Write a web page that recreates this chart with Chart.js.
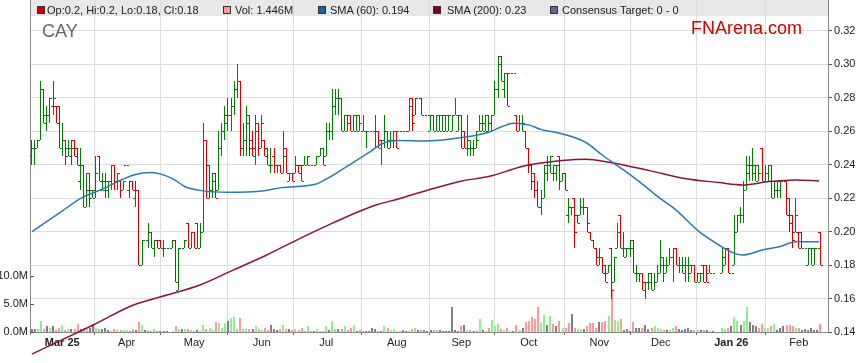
<!DOCTYPE html>
<html><head><meta charset="utf-8">
<script src="https://cdn.jsdelivr.net/npm/chart.js@4.4.1/dist/chart.umd.min.js"></script>
<style>
html,body{margin:0;padding:0;background:#fff;}
#wrap{position:relative;width:859px;height:363px;overflow:hidden;font-family:"Liberation Sans",Arial,sans-serif;}
#legend{position:absolute;left:30px;top:0;width:798px;height:16px;background:#e8e8e8;z-index:0;}
.it{position:absolute;top:2px;font-size:11px;line-height:16px;color:#222;white-space:nowrap;z-index:2;}
.sw{position:absolute;top:6px;width:6px;height:6px;border:1px solid #333;z-index:2;}
#cay{position:absolute;left:42px;top:22px;font-size:18px;line-height:18px;color:#666;z-index:2;}
#fna{position:absolute;left:691px;top:19px;font-size:18px;line-height:18px;color:#cc0000;z-index:2;}
canvas{position:absolute;left:0;top:0;z-index:1;}
</style></head>
<body>
<div id="wrap">
  <div id="legend"></div>
  <canvas id="c" width="859" height="363"></canvas>
  <div class="sw" style="left:37px;background:#cc0000"></div><div class="it" style="left:47px">Op:0.2, Hi:0.2, Lo:0.18, Cl:0.18</div>
  <div class="sw" style="left:223px;background:#ff9999"></div><div class="it" style="left:235px">Vol: 1.446M</div>
  <div class="sw" style="left:318px;background:#1a64a8"></div><div class="it" style="left:330px">SMA (60): 0.194</div>
  <div class="sw" style="left:433px;background:#800020"></div><div class="it" style="left:447px">SMA (200): 0.23</div>
  <div class="sw" style="left:550px;background:#666699"></div><div class="it" style="left:562px">Consensus Target: 0 - 0</div>
  <div id="cay">CAY</div>
  <div id="fna">FNArena.com</div>
</div>
<script>
// ---- DATA (one entry per weekday starting 17 Feb 2025) ----
const opens = [
.245,.25,.25,.255,.285,.265,.27,.275,.275,.275,
.25,.255,.25,.245,.255,.25,.23,.24,.215,.235,
.22,.22,.245,.225,.225,.225,.23,.24,.23,.23,
.225,.24,.225,.23,.22,.225,.18,.195,.195,.2,
.19,.195,.195,.19,.19,null,.19,.195,.165,.19,
.19,.205,.19,.2,.205,.19,.2,.255,.24,.225,
.235,.225,.25,.26,.265,.27,.275,.285,.29,.25,
.255,.27,.255,.245,.265,.25,.255,.25,.24,.245,
.24,.24,.235,.25,.23,.235,.235,.24,.24,.24,
.24,.24,.24,.24,.245,.25,.245,.26,.26,.275,
.28,.28,.26,.26,.27,.26,.26,.26,.26,.26,
.26,.26,.26,.26,.25,.255,.26,.255,.255,.26,
.26,.26,.26,.26,.28,.27,.28,.28,.27,.27,
.26,.27,.26,.26,.26,.26,.26,.26,.27,.26,
.27,.26,.25,.25,.25,.25,.26,.26,.26,.26,
.26,.27,.285,.305,.285,.295,.295,.295,.27,.26,
.265,.26,.25,.24,.235,.225,.215,.22,.235,.24,
.235,.235,.245,.23,.235,.21,.215,.22,.21,.21,
.215,.215,.2,.195,.19,.18,.185,.18,.175,.19,
.17,.19,.21,.19,.185,.19,.195,.175,.175,.175,
.165,.17,.175,.165,.17,.175,.18,.175,.18,.185,
.19,.18,.18,.175,.18,.175,.18,.17,.17,.18,
.18,.175,.175,null,null,.175,.18,.19,.175,.18,
.2,.21,.21,.225,.235,.24,.235,.23,.25,.23,
.23,.24,.22,.225,.225,.23,.23,.22,.21,.2,
.2,.2,.19,.18,.19,.18,.19,.2];
const highs = [
.255,.255,.255,.29,.285,.275,.28,.29,.275,.275,
.265,.255,.255,.255,.255,.25,.25,.24,.235,.235,
.225,.245,.245,.235,.235,.23,.24,.24,.235,.23,
.23,.24,.23,.23,.23,.225,.195,.195,.205,.2,
.195,.195,.195,.195,.19,null,.195,.195,.19,.19,
.195,.205,.2,.2,.205,.205,.265,.255,.24,.235,
.235,.26,.265,.275,.28,.28,.29,.30,.29,.265,
.275,.27,.26,.27,.265,.27,.255,.25,.25,.25,
.24,.24,.26,.25,.235,.235,.245,.24,.24,.245,
.245,.24,.24,.245,.25,.25,.265,.265,.285,.285,
.285,.28,.27,.27,.27,.27,.27,.27,.27,.26,
.26,.26,.27,.26,.255,.27,.26,.26,.26,.26,
.26,.26,.26,.28,.28,.28,.28,.28,.27,.27,
.27,.27,.27,.27,.27,.27,.27,.27,.28,.27,
.27,.26,.27,.255,.255,.26,.27,.27,.27,.27,
.27,.29,.305,.305,.295,.295,.295,.295,.27,.27,
.27,.26,.25,.24,.235,.23,.225,.24,.245,.245,
.24,.24,.245,.235,.235,.22,.215,.22,.21,.22,
.22,.215,.2,.195,.19,.19,.185,.18,.18,.19,
.185,.205,.21,.2,.19,.195,.195,.18,.175,.175,
.17,.175,.175,.175,.18,.195,.185,.185,.19,.19,
.19,.185,.185,.185,.185,.18,.18,.175,.175,.18,
.18,.18,.175,null,null,.19,.19,.19,.175,.21,
.21,.215,.23,.245,.245,.25,.24,.24,.25,.24,
.24,.24,.23,.23,.23,.23,.23,.22,.21,.22,
.2,.2,.19,.19,.19,.19,.19,.2];
const lows = [
.24,.24,.25,.255,.265,.26,.265,.27,.265,.25,
.245,.24,.245,.24,.245,.24,.225,.215,.215,.215,
.22,.22,.23,.225,.22,.22,.225,.225,.225,.22,
.225,.24,.22,.225,.215,.18,.18,.195,.19,.19,
.185,.19,.19,.185,.19,null,.19,.17,.165,.19,
.19,.19,.19,.19,.19,.19,.2,.22,.22,.22,
.22,.225,.245,.255,.26,.26,.27,.28,.245,.245,
.245,.245,.245,.24,.245,.25,.245,.24,.235,.235,
.235,.235,.235,.235,.23,.23,.235,.235,.23,.24,
.24,.24,.24,.24,.245,.24,.245,.255,.255,.27,
.27,.26,.26,.26,.26,.26,.26,.26,.26,.25,
.26,.26,.25,.25,.24,.25,.25,.25,.25,.25,
.26,.26,.26,.26,.26,.27,.28,.27,.27,.27,
.26,.26,.26,.26,.26,.26,.26,.26,.27,.26,
.25,.25,.245,.245,.245,.25,.26,.26,.26,.26,
.26,.27,.28,.29,.28,.275,.295,.295,.26,.26,
.26,.25,.235,.225,.22,.215,.21,.22,.23,.235,
.23,.23,.225,.23,.225,.205,.21,.19,.205,.21,
.21,.2,.195,.19,.18,.18,.175,.17,.175,.16,
.17,.19,.19,.185,.185,.185,.175,.17,.17,.165,
.16,.165,.165,.165,.17,.175,.17,.175,.18,.17,
.18,.175,.175,.17,.17,.175,.17,.17,.17,.17,
.17,.175,.175,null,null,.175,.18,.175,.175,.18,
.2,.205,.205,.225,.23,.23,.23,.23,.23,.23,
.23,.22,.22,.22,.22,.23,.21,.2,.19,.2,
.19,.19,.19,.18,.18,.18,.19,.18];
const closes = [
.25,.25,.255,.285,.27,.27,.28,.28,.265,.25,
.255,.245,.25,.25,.245,.24,.24,.215,.225,.225,
.225,.235,.23,.23,.23,.23,.24,.23,.235,.225,
.23,.24,.23,.225,.225,.18,.195,.195,.2,.19,
.195,.19,.19,.19,.19,null,.195,.17,.19,.19,
.195,.19,.2,.19,.19,.2,.255,.22,.225,.23,
.22,.25,.26,.27,.27,.275,.285,.29,.25,.255,
.265,.25,.25,.26,.25,.265,.245,.24,.24,.24,
.24,.235,.245,.235,.235,.23,.24,.235,.23,.24,
.245,.24,.24,.245,.25,.24,.26,.26,.275,.28,
.28,.26,.27,.265,.26,.27,.27,.265,.26,.26,
.26,.26,.26,.255,.255,.26,.25,.255,.26,.25,
.26,.26,.26,.275,.265,.28,.28,.27,.27,.27,
.27,.26,.27,.27,.27,.27,.27,.27,.27,.27,
.25,.25,.255,.25,.25,.255,.265,.265,.27,.265,
.27,.285,.30,.29,.295,.275,.295,.295,.26,.265,
.265,.25,.24,.23,.225,.215,.22,.24,.24,.245,
.24,.24,.23,.235,.225,.215,.215,.2,.205,.215,
.215,.205,.195,.19,.185,.185,.175,.17,.18,.165,
.185,.2,.19,.19,.19,.19,.175,.175,.175,.17,
.17,.17,.165,.17,.175,.185,.18,.18,.185,.19,
.18,.18,.18,.18,.18,.18,.17,.175,.175,.17,
.17,.175,.175,null,null,.185,.19,.175,.175,.2,
.21,.21,.225,.24,.24,.24,.24,.235,.23,.235,
.24,.22,.23,.23,.23,.23,.21,.205,.195,.21,
.19,.19,.19,.19,.19,.19,.19,.18];
// volume in millions
const volumes = [
0.6,0.6,0.6,2.0,0.6,1.0,0.8,1.1,0.4,0.8,
1.3,0.4,0.6,0.6,0.6,1.5,0.6,0.8,0.6,0.8,
1.5,0.8,0.6,0.6,0.8,0.4,0.2,0.6,0.4,0.4,
0.4,0.4,0.2,0.6,0.4,1.8,1.2,0.4,0.4,0.2,
0.6,0.2,0.2,0.2,0.1,null,0.2,1.0,0.6,0.6,
0.6,0.6,0.4,0.2,0.4,0.2,1.2,0.6,0.8,0.4,
1.8,1.6,0.8,1.6,2.0,2.5,2.6,0.6,2.5,0.6,
0.6,0.6,0.6,1.0,0.6,0.4,0.8,0.4,1.2,0.6,
0.4,0.6,1.3,0.6,0.6,0.4,0.6,0.3,0.8,0.2,
1.0,0.2,0.2,0.6,0.2,0.2,1.0,0.4,2.0,0.6,
0.6,0.6,1.0,0.4,0.8,1.2,0.2,0.4,0.1,0.2,
0.2,0.8,0.6,0.2,0.2,1.0,0.8,0.4,0.6,0.1,
0.1,0.4,0.2,0.2,0.6,0.8,0.4,0.4,0.4,0.1,
0.4,0.4,0.4,0.4,0.2,0.2,0.2,4.4,0.4,0.2,
1.0,1.3,0.4,0.4,0.2,0.4,2.4,0.4,0.1,0.8,
2.2,1.0,1.5,0.6,0.4,0.8,0.1,0.1,1.3,0.4,
0.8,1.8,2.0,2.6,2.4,4.4,1.6,3.1,1.2,2.9,
1.4,1.0,2.0,0.8,0.8,1.6,3.3,0.7,0.6,0.6,
0.6,1.1,1.6,1.6,0.8,1.7,1.7,1.9,2.8,7.6,
2.2,1.9,2.4,0.4,0.6,0.2,1.8,0.8,0.8,0.8,
1.3,0.6,0.8,1.0,0.8,0.6,0.4,0.4,0.4,0.8,
1.0,0.6,0.4,0.6,0.7,0.4,0.4,0.4,0.4,0.4,
0.4,0.2,0.2,null,null,0.8,0.6,0.8,1.0,2.6,
1.9,1.3,2.0,4.4,1.8,1.3,1.0,0.8,1.4,0.8,
0.8,1.0,1.4,0.4,0.8,1.0,1.3,1.2,1.0,0.8,
0.8,0.4,0.6,0.4,0.8,0.4,0.4,1.446];
// moving averages (weekday index, value)
const sma60X = [0.2,9.7,16.2,23.8,28.2,33.6,38.5,45.6,49.9,55.3,64,75.9,81.5,92.4,95.6,101.1,109.7,114.1,119.5,128.2,136,149,153.3,157.1,162,166.4,170.7,180.5,185.9,192.4,198,204.5,209.9,217.5,224,228.3,231.6,238.1,243.6,249,256.6];
const sma60Y = [0.200,0.212,0.220,0.226,0.230,0.234,0.2353,0.232,0.227,0.2245,0.2235,0.2245,0.2263,0.2283,0.231,0.237,0.247,0.2524,0.2544,0.2542,0.2552,0.2594,0.2628,0.2648,0.2638,0.2608,0.2594,0.2534,0.2458,0.2375,0.2299,0.2203,0.213,0.200,0.192,0.1876,0.186,0.189,0.191,0.194,0.194];
const sma200X = [0.1,20.1,33.2,44.1,54.9,65.8,76.6,87.5,95.6,106.5,113,119.5,128.2,140.3,148.9,159.8,164.2,172.9,180.5,188.1,201.7,212.2,224,231.6,240.3,249,256.6];
const sma200Y = [0.1268,0.1442,0.1561,0.1621,0.1681,0.1771,0.186,0.196,0.203,0.2119,0.2164,0.2195,0.2243,0.2303,0.2329,0.2389,0.2405,0.2425,0.2433,0.2415,0.2363,0.2319,0.2293,0.2279,0.2299,0.2309,0.2303];
// axis ticks
const monthIdx = [10,31,53,75,96,119,140,162,185,205,228,250];
const monthLabels = ['Mar 25','Apr','May','Jun','Jul','Aug','Sep','Oct','Nov','Dec','Jan 26','Feb'];
const priceTicks = [0.14,0.16,0.18,0.20,0.22,0.24,0.26,0.28,0.30,0.32];
const volTicks = [0,5,10];

// ---- CHART ----
const GREEN = '#008000', RED = '#dd0000';
const VGREEN = '#90ee90', VRED = '#ff9999', VGRAY = '#808080';
const isDown = i => closes[i] < opens[i];
function tickImg(color, side) {
  const c = document.createElement('canvas');
  c.width = 5; c.height = 1;
  const g = c.getContext('2d');
  g.fillStyle = color;
  g.fillRect(side === 'open' ? 0 : 3, 0, 2, 1);
  return c;
}
const IMG = {
  openG: tickImg(GREEN, 'open'), openR: tickImg(RED, 'open'),
  closeG: tickImg(GREEN, 'close'), closeR: tickImg(RED, 'close')
};
const idx = opens.map((_, i) => i).filter(i => opens[i] !== null);
const rangeData = idx.map(i => ({x: i, y: [lows[i], highs[i]]}));
const openData = idx.map(i => ({x: i, y: opens[i]}));
const closeData = idx.map(i => ({x: i, y: closes[i]}));
const volData = volumes.map((v, i) => ({x: i, y: v})).filter(d => d.y !== null);
const prevClose = i => { for (let k = i - 1; k >= 0; k--) if (closes[k] !== null) return closes[k]; return closes[i]; };
const volColor = i => closes[i] > prevClose(i) ? VGREEN : (closes[i] < prevClose(i) ? VRED : VGRAY);

Chart.defaults.font.family = '"Liberation Sans", Arial, sans-serif';
Chart.defaults.font.size = 11;

// snap OHLC / volume elements to the pixel grid so 1px marks stay crisp
const snap = {
  id: 'snap',
  beforeDatasetsDraw(chart) {
    chart.data.datasets.forEach((ds, di) => {
      const meta = chart.getDatasetMeta(di);
      if (ds.label === 'range') {
        meta.data.forEach(el => { el.x = Math.floor(el.x) + 0.5; el.y = Math.round(el.y); el.base = Math.round(el.base); });
      } else if (ds.label === 'open' || ds.label === 'close') {
        meta.data.forEach(el => { el.x = Math.floor(el.x) + 0.5; el.y = Math.round(el.y) + 0.5; });
      } else if (ds.label === 'Vol') {
        meta.data.forEach(el => { el.x = Math.round(el.x); el.y = Math.round(el.y); el.base = Math.round(el.base); });
      }
    });
  }
};
const inTicks = {
  id: 'inTicks',
  afterDraw(chart) {
    const s = chart.scales.yVol, ctx = chart.ctx;
    ctx.save();
    ctx.strokeStyle = '#555'; ctx.lineWidth = 1;
    volTicks.forEach(v => {
      const y = Math.round(s.getPixelForValue(v)) + 0.5;
      ctx.beginPath(); ctx.moveTo(s.right, y); ctx.lineTo(s.right + 4, y); ctx.stroke();
    });
    ctx.restore();
  }
};

new Chart(document.getElementById('c'), {
  type: 'bar',
  data: {
    datasets: [
      { type: 'line', label: 'SMA (60)', data: sma60X.map((x, k) => ({x, y: sma60Y[k]})),
        xAxisID: 'x', yAxisID: 'yPrice', borderColor: '#2a78b8', borderWidth: 1.5,
        pointRadius: 0, cubicInterpolationMode: 'monotone', order: 0 },
      { type: 'line', label: 'SMA (200)', data: sma200X.map((x, k) => ({x, y: sma200Y[k]})),
        xAxisID: 'x', yAxisID: 'yPrice', borderColor: '#8a1538', borderWidth: 1.5,
        pointRadius: 0, cubicInterpolationMode: 'monotone', clip: false, order: 0 },
      { type: 'scatter', label: 'open', data: openData, xAxisID: 'x', yAxisID: 'yPrice',
        pointRadius: 2, pointStyle: c => (c.raw && isDown(c.raw.x)) ? IMG.openR : IMG.openG, order: 1 },
      { type: 'scatter', label: 'close', data: closeData, xAxisID: 'x', yAxisID: 'yPrice',
        pointRadius: 2, pointStyle: c => (c.raw && isDown(c.raw.x)) ? IMG.closeR : IMG.closeG, order: 1 },
      { type: 'bar', label: 'range', data: rangeData, xAxisID: 'x', yAxisID: 'yPrice',
        barThickness: 1, grouped: false, borderWidth: 0, inflateAmount: 0,
        backgroundColor: c => (c.raw && isDown(c.raw.x)) ? RED : GREEN, order: 2 },
      { type: 'bar', label: 'Vol', data: volData, xAxisID: 'x', yAxisID: 'yVol',
        barThickness: 2, grouped: false, borderWidth: 0, inflateAmount: 0,
        backgroundColor: c => c.raw ? volColor(c.raw.x) : VGRAY, order: 3 }
    ]
  },
  options: {
    responsive: false, devicePixelRatio: 1, animation: false, events: [],
    layout: { padding: 0, autoPadding: false },
    plugins: { legend: { display: false }, tooltip: { enabled: false } },
    scales: {
      x: {
        type: 'linear', min: -0.5, max: 259.5, offset: false,
        afterBuildTicks: s => { s.ticks = monthIdx.map(v => ({value: v})); },
        ticks: {
          autoSkip: false, maxRotation: 0, padding: 1, color: '#222',
          callback: v => monthLabels[monthIdx.indexOf(v)],
          font: c => ({ size: 11, weight: (c.tick && /\d/.test(monthLabels[monthIdx.indexOf(c.tick.value)] || '')) ? 'bold' : 'normal' })
        },
        grid: { color: '#dcdcdc', tickColor: '#666', tickLength: 3 },
        border: { color: '#888' },
        afterFit: s => { s.height = 31; s.paddingLeft = 0; s.paddingRight = 0; }
      },
      yPrice: {
        position: 'right', min: 0.14, max: 0.14 + 332 / 1673,
        afterBuildTicks: s => { s.ticks = priceTicks.map(v => ({value: v})); },
        ticks: { callback: v => v.toFixed(2), padding: 2, color: '#222' },
        grid: { color: '#dcdcdc', tickColor: '#555', tickLength: 4 },
        border: { color: '#888' },
        afterFit: s => { s.width = 31; s.paddingTop = 0; s.paddingBottom = 0; }
      },
      yVol: {
        position: 'left', min: 0, max: 332 / 5.6,
        afterBuildTicks: s => { s.ticks = volTicks.map(v => ({value: v})); },
        ticks: { callback: v => v.toFixed(1) + 'M', padding: 2, color: '#222' },
        grid: { display: false, drawTicks: false },
        border: { color: '#888' },
        afterFit: s => { s.width = 30; s.paddingTop = 0; s.paddingBottom = 0; }
      }
    }
  },
  plugins: [snap, inTicks]
});
</script>
</body></html>
